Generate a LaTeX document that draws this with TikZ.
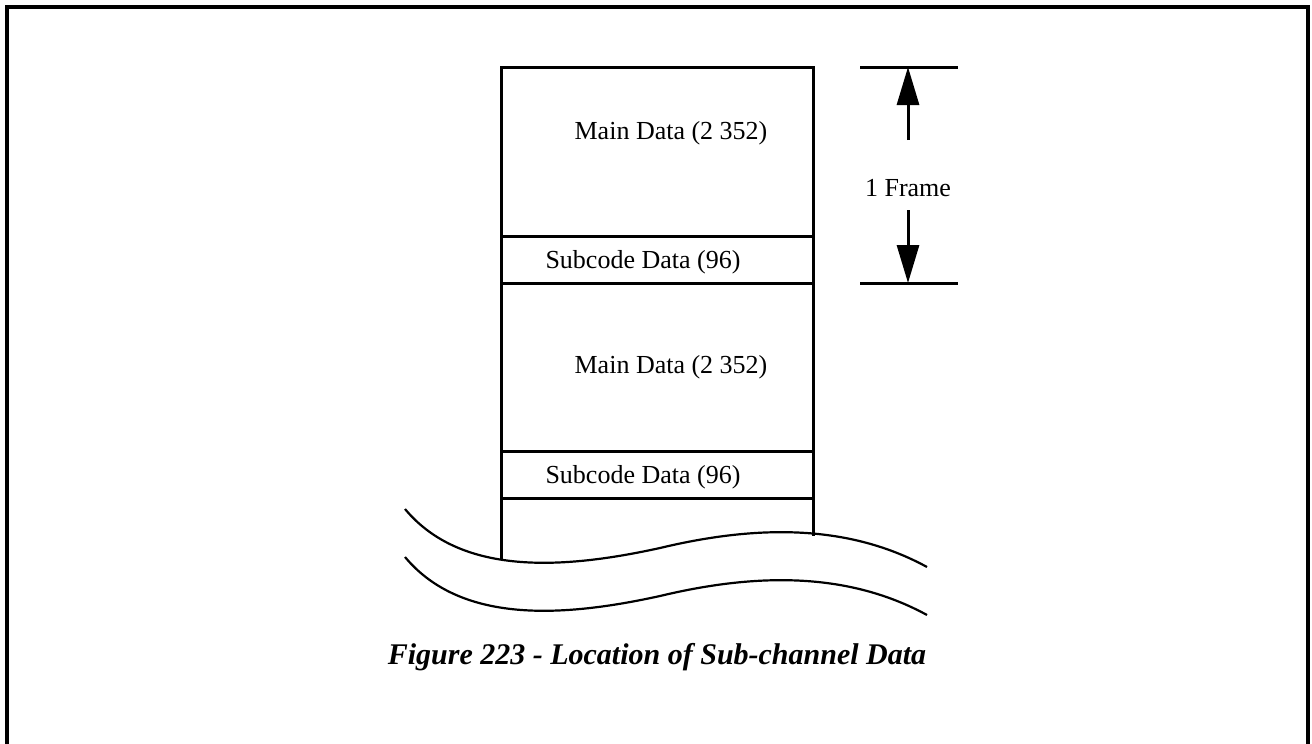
\documentclass[tikz,border=0pt]{standalone}
\usepackage{fontspec}
\setmainfont{Liberation Serif}
\usetikzlibrary{arrows.meta}
\begin{document}
\begin{tikzpicture}[x=1pt,y=-1pt,
  lbl/.style={inner sep=0pt,font=\fontsize{26}{30}\selectfont},
  captext/.style={inner sep=0pt,font=\fontsize{30}{34}\selectfont\bfseries\itshape},
  col/.style={line width=3pt},
  wave/.style={line width=2.2pt},
  dimline/.style={line width=3pt},
  dimarrow/.style={line width=3pt,-{Triangle[length=38pt,width=22pt]}},
  outerframe/.style={line width=4pt}]
\useasboundingbox (0,0) rectangle (1312,744);
\clip (0,0) rectangle (1312,744);
% outer frame (bottom edge outside the picture)
\draw[outerframe] (7,760) -- (7,7) -- (1308,7) -- (1308,760);
% column coordinates
\coordinate (tl) at (501,67);
\coordinate (tr) at (813,67);
\coordinate (l1) at (501,236);
\coordinate (r1) at (813,236);
\coordinate (l2) at (501,283);
\coordinate (r2) at (813,283);
\coordinate (l3) at (501,451);
\coordinate (r3) at (813,451);
\coordinate (l4) at (501,498);
\coordinate (r4) at (813,498);
\coordinate (lb) at (501,560);
\coordinate (rb) at (813,536);
\draw[col] (lb) -- (tl) -- (tr) -- (rb);
\draw[col] (l1) -- (r1);
\draw[col] (l2) -- (r2);
\draw[col] (l3) -- (r3);
\draw[col] (l4) -- (r4);
% labels
\node[lbl] (main1) at (671,133) {Main Data (2 352)};
\node[lbl] (sub1) at (643,262) {Subcode Data (96)};
\node[lbl] (main2) at (671,367) {Main Data (2 352)};
\node[lbl] (sub2) at (643,477) {Subcode Data (96)};
% break waves
\coordinate (w1s) at (405,509);
\coordinate (w1m) at (660,548);
\coordinate (w1e) at (927,567);
\draw[wave] (w1s) .. controls (460,575) and (560,570) .. (w1m)
  .. controls (760,524) and (850,525) .. (w1e);
\coordinate (w2s) at (405,557);
\coordinate (w2m) at (660,596);
\coordinate (w2e) at (927,615);
\draw[wave] (w2s) .. controls (460,623) and (560,618) .. (w2m)
  .. controls (760,572) and (850,573) .. (w2e);
% frame dimension
\coordinate (dtl) at (860,67);
\coordinate (dtr) at (958,67);
\coordinate (dbl) at (860,283);
\coordinate (dbr) at (958,283);
\draw[dimline] (dtl) -- (dtr);
\draw[dimline] (dbl) -- (dbr);
\node[lbl] (framelbl) at (908,188) {1 Frame};
\coordinate (uptip) at (908,67);
\coordinate (dntip) at (908,283);
\coordinate (upbase) at (908,140);
\coordinate (dnbase) at (908,210);
\draw[dimarrow] (upbase) -- (uptip);
\draw[dimarrow] (dnbase) -- (dntip);
% caption
\node[captext] (caption) at (657,657) {Figure 223 - Location of Sub-channel Data};
\end{tikzpicture}
\end{document}
